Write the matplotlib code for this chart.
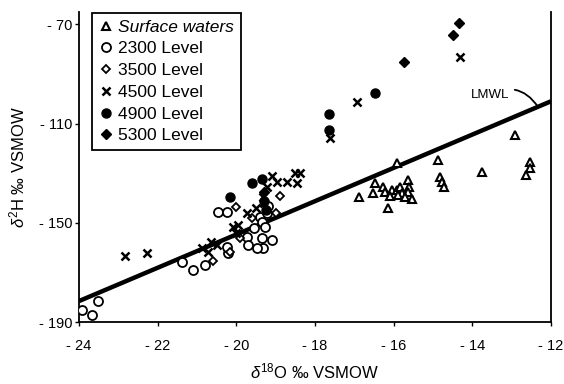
import matplotlib
matplotlib.use("Agg")
import matplotlib.pyplot as plt

plt.rcParams['font.family'] = ['Liberation Sans', 'DejaVu Sans']
plt.rcParams['mathtext.fontset'] = 'custom'
plt.rcParams['mathtext.rm'] = 'Liberation Sans'
plt.rcParams['mathtext.it'] = 'Liberation Sans:italic'
plt.rcParams['axes.unicode_minus'] = False

# ---- data (delta18O, delta2H) ----
surface_x = [-12.91, -15.92, -14.87, -14.82, -14.77, -14.72, -13.75, -12.53, -12.53, -12.63,
             -16.88, -16.14, -16.47, -16.52, -16.27, -16.22, -16.04, -15.92, -15.84, -15.79,
             -15.89, -15.63, -15.60, -15.63, -15.53, -16.10, -15.70]
surface_y = [-114.6, -125.9, -124.7, -131.5, -133.5, -135.6, -129.5, -125.5, -128.0, -130.7,
             -139.6, -144.0, -134.0, -138.0, -135.6, -137.6, -136.8, -136.8, -135.6, -138.0,
             -138.8, -132.7, -135.6, -137.6, -140.4, -139.0, -139.5]

l2300_x = [-23.92, -23.67, -23.52, -21.38, -21.10, -20.80, -20.47, -20.24, -20.20, -20.24,
           -19.73, -19.70, -19.35, -19.32, -19.47, -19.40, -19.35, -19.22, -19.27, -19.10,
           -19.55, -19.20]
l2300_y = [-185.2, -187.2, -181.5, -165.8, -169.0, -167.0, -145.6, -145.6, -162.0, -159.8,
           -155.7, -159.0, -156.0, -160.2, -160.0, -147.7, -149.7, -146.0, -151.7, -157.0,
           -152.0, -143.0]

l3500_x = [-20.16, -20.60, -19.90, -19.60, -20.00, -19.00, -18.90]
l3500_y = [-161.8, -165.5, -156.0, -148.0, -143.5, -146.0, -139.0]

l4500_x = [-22.83, -22.27, -16.93, -17.62, -14.31, -20.87, -20.72, -20.50, -20.65, -20.08,
           -19.95, -19.73, -19.50, -19.32, -19.22, -18.97, -18.46, -18.50, -18.70, -18.38,
           -19.10, -20.00, -19.30]
l4500_y = [-163.4, -162.2, -101.3, -115.8, -83.1, -160.2, -161.8, -159.0, -157.5, -151.7,
           -151.0, -146.0, -144.0, -139.6, -135.6, -133.5, -134.0, -130.0, -133.5, -130.0,
           -131.0, -154.0, -142.0]

l4900_x = [-17.64, -17.64, -16.47, -20.16, -19.60, -19.35, -19.30, -19.25]
l4900_y = [-106.1, -112.6, -97.7, -139.6, -134.0, -132.3, -141.0, -145.0]

l5300_x = [-15.74, -14.49, -14.34, -19.30]
l5300_y = [-85.2, -74.3, -69.4, -137.5]

lmwl_x = [-24, -12]
lmwl_y = [-181.5, -101.0]

labels = ["Surface waters", "2300 Level", "3500 Level", "4500 Level", "4900 Level", "5300 Level"]
x_ticks = [-24, -22, -20, -18, -16, -14, -12]
y_ticks = [-70, -110, -150, -190]

fig = plt.figure(figsize=(5.64, 3.84), dpi=100)
ax = fig.add_axes([0.140, 0.161, 0.837, 0.808])

ax.plot(lmwl_x, lmwl_y, color='black', lw=3.2, solid_capstyle='butt', zorder=2)

kw = dict(linestyle='none', color='black', zorder=3)
ax.plot(surface_x, surface_y, marker='^', ms=6, mfc='white', mew=1.5, label=labels[0], **kw)
ax.plot(l2300_x, l2300_y, marker='o', ms=6.5, mfc='white', mew=1.3, label=labels[1], **kw)
ax.plot(l3500_x, l3500_y, marker='D', ms=4.5, mfc='white', mew=1.3, label=labels[2], **kw)
ax.plot(l4500_x, l4500_y, marker='x', ms=6, mew=1.8, label=labels[3], **kw)
ax.plot(l4900_x, l4900_y, marker='o', ms=6.5, label=labels[4], **kw)
ax.plot(l5300_x, l5300_y, marker='D', ms=5.5, label=labels[5], **kw)

ax.annotate("LMWL", xy=(-12.33, -103.3), xytext=(-13.55, -98.5),
            fontsize=9.5, ha='center', va='center',
            arrowprops=dict(arrowstyle='-', color='black', lw=1.3,
                            connectionstyle='arc3,rad=-0.45', shrinkA=2, shrinkB=0))

ax.set_xlim(-24, -12)
ax.set_ylim(-190, -65)
ax.set_xticks(x_ticks)
ax.set_yticks(y_ticks)
ax.set_xticklabels([str(v).replace('-', '- ') for v in x_ticks])
ax.set_yticklabels([str(v).replace('-', '- ') for v in y_ticks])
ax.tick_params(axis='both', direction='out', length=3, width=1, labelsize=10.5)
ax.tick_params(axis='y', pad=2)
ax.tick_params(axis='x', pad=9)
ax.spines['top'].set_visible(False)
for s in ['left', 'right', 'bottom']:
    ax.spines[s].set_linewidth(1.3)

ax.set_xlabel(r"$\delta^{18}$O ‰ VSMOW", fontsize=12, labelpad=6)
ax.set_ylabel(r"$\delta^{2}$H ‰ VSMOW", fontsize=12, labelpad=8)

leg = ax.legend(loc='upper left', bbox_to_anchor=(0.0275, 0.998), fontsize=12.5,
                frameon=True, fancybox=False, edgecolor='black', framealpha=1,
                handlelength=0.8, handletextpad=0.3, labelspacing=0.38,
                borderpad=0.4, borderaxespad=0)
leg.get_frame().set_linewidth(1.3)
leg.get_texts()[0].set_style('italic')

fig.savefig("out.png", dpi=100)
